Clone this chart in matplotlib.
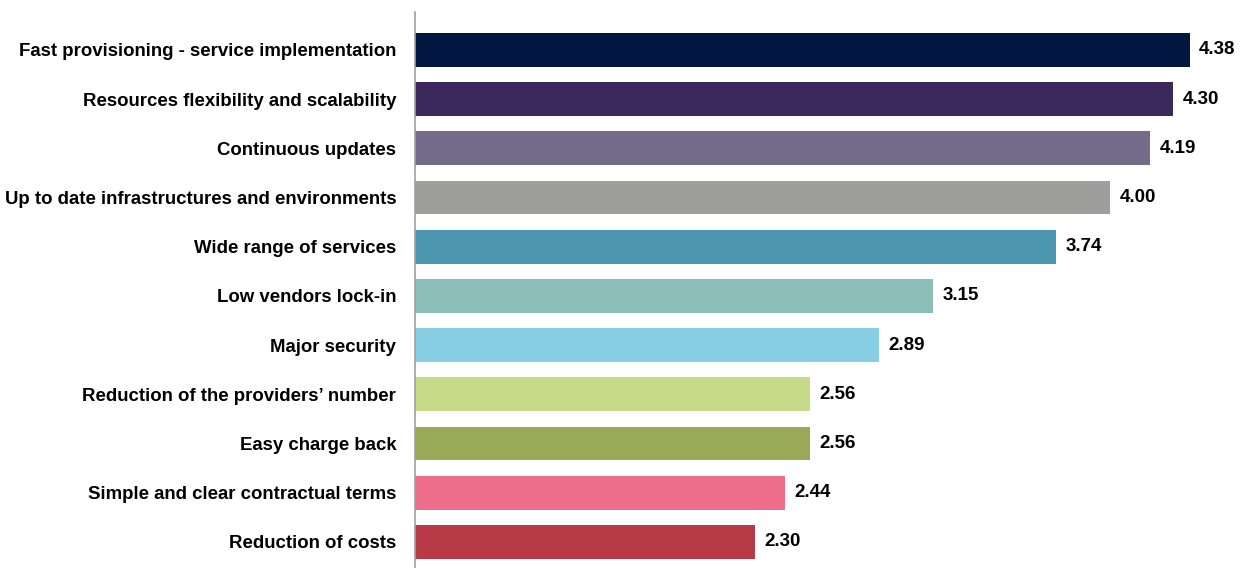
import matplotlib.pyplot as plt

# Категорії та значення
categories = [
    'Fast provisioning - service implementation',
    'Resources flexibility and scalability',
    'Continuous updates',
    'Up to date infrastructures and environments',
    'Wide range of services',
    'Low vendors lock-in',
    'Major security',
    'Reduction of the providers\u2019 number',
    'Easy charge back',
    'Simple and clear contractual terms',
    'Reduction of costs',
]
values = [4.38, 4.30, 4.19, 4.00, 3.74, 3.15, 2.89, 2.56, 2.56, 2.44, 2.30]
colors = ['#021740', '#3b285c', '#756b8b', '#9e9e9c', '#4d98b0', '#8dbfba',
          '#87cde4', '#c7da87', '#9aa955', '#ee6d8a', '#b83a46']

plt.rcParams['font.family'] = ['Liberation Sans', 'DejaVu Sans']

fig = plt.figure(figsize=(12.44, 5.68), dpi=100)
ax = fig.add_axes([415 / 1244, 0.0, 1 - 415 / 1244, 1 - 12 / 568])

xmin = 0.67
ypos = list(range(len(values)))
widths = [v - xmin for v in values]
ax.barh(ypos, widths, left=xmin, height=0.69, color=colors)

for y, v in zip(ypos, values):
    ax.text(v + 0.045, y, f'{v:.2f}', va='center', ha='left',
            fontsize=13.5, fontweight='bold', color='black')

ax.set_yticks(ypos)
ax.set_yticklabels(categories, fontsize=13.4, fontweight='bold')
ax.tick_params(axis='y', length=0, pad=13.5)
ax.set_xticks([])
ax.set_xlim(xmin, 4.64)
ax.set_ylim(len(values) - 0.47, -0.77)

for side in ['top', 'right', 'bottom']:
    ax.spines[side].set_visible(False)
ax.spines['left'].set_color('#a0a0a0')
ax.spines['left'].set_linewidth(1.2)

fig.savefig('out.png', dpi=100)
